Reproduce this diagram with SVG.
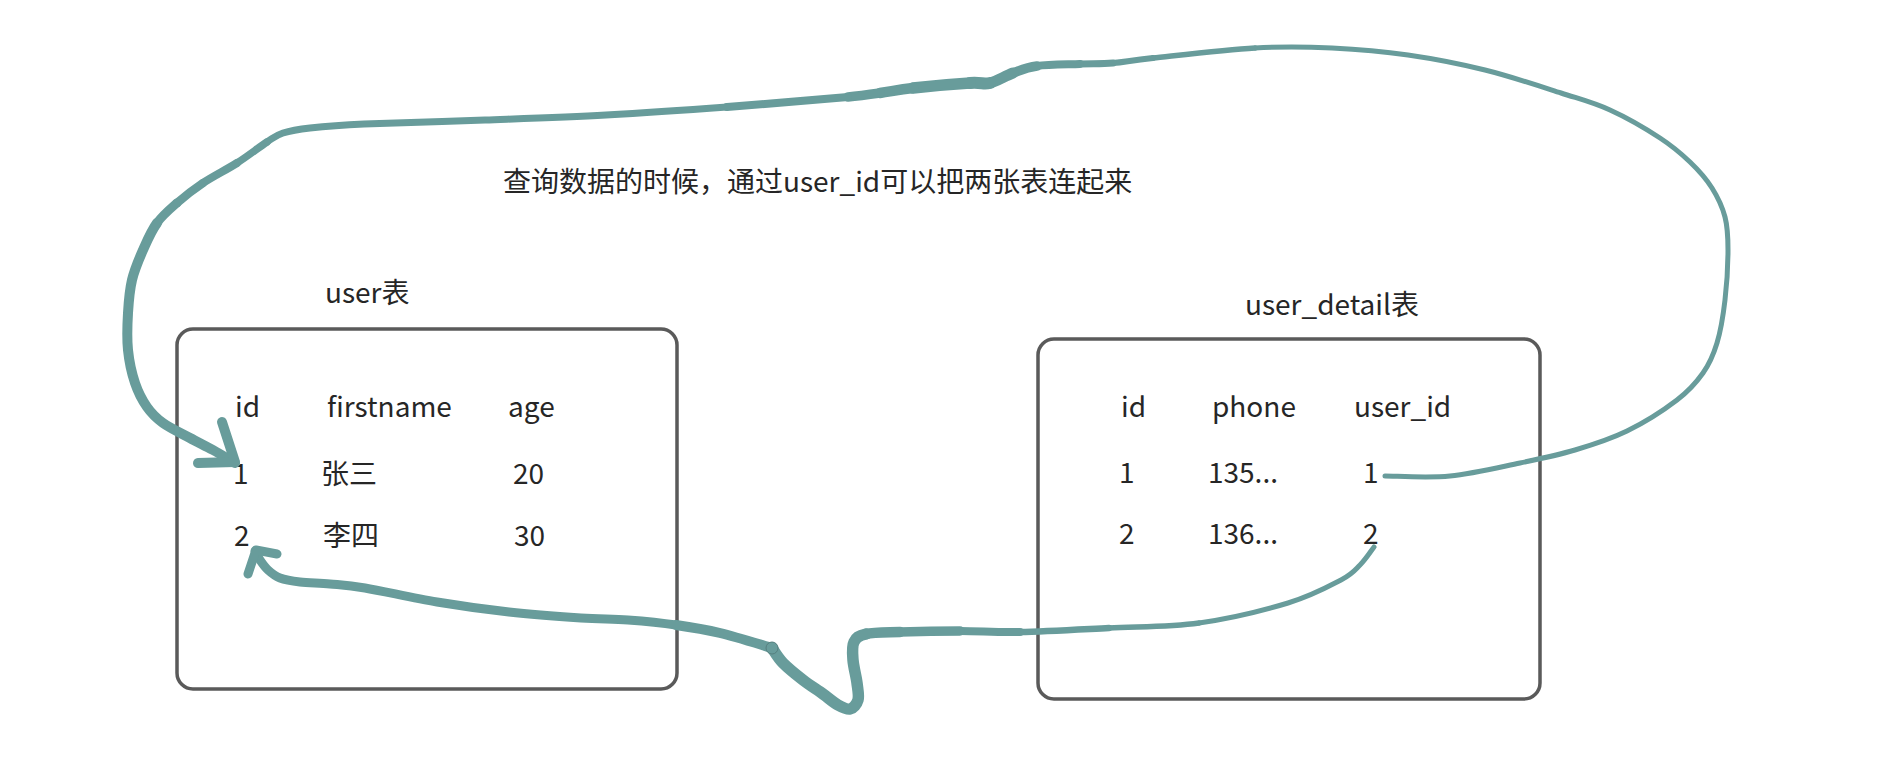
<svg xmlns="http://www.w3.org/2000/svg" width="1900" height="770" viewBox="0 0 1900 770">
<style>
text{font-family:"Noto Sans CJK SC","Noto Sans",sans-serif;font-size:28px;fill:#262626}
.box{fill:none;stroke:#5a5a5a;stroke-width:3.5}
#connectors path{fill:none;stroke:#689c9b;stroke-linecap:round;stroke-linejoin:round}
</style>
<rect width="1900" height="770" fill="#ffffff"/>
<g id="title"><text x="503" y="192">查询数据的时候，通过user_id可以把两张表连起来</text></g>
<g id="user-table">
<text x="325" y="303">user表</text>
<rect class="box" x="177" y="329" width="500" height="360" rx="16"/>
<text x="235" y="417">id</text><text x="327" y="417">firstname</text><text x="508" y="417">age</text>
<text x="233" y="484">1</text><text x="321" y="484">张三</text><text x="513" y="484">20</text>
<text x="234" y="546">2</text><text x="323" y="546">李四</text><text x="514" y="546">30</text>
</g>
<g id="user-detail-table">
<text x="1245" y="315">user_detail表</text>
<rect class="box" x="1038" y="339" width="502" height="360" rx="16"/>
<text x="1121" y="417">id</text><text x="1212" y="417">phone</text><text x="1354" y="417">user_id</text>
<text x="1119" y="483">1</text><text x="1208" y="483">135...</text><text x="1363" y="483">1</text>
<text x="1119" y="544">2</text><text x="1208" y="544">136...</text><text x="1363" y="544">2</text>
</g>
<g id="connectors">
<path stroke-width="5" d="M1385,476 C1395.8,476 1427.5,478.2 1450,476 C1472.5,473.8 1499.2,467.3 1520,463 C1540.8,458.7 1557.2,455.3 1575,450 C1592.8,444.7 1610,439.3 1627,431 C1644,422.7 1664.3,409.7 1677,400 C1689.7,390.3 1696.3,382.5 1703,373 C1709.7,363.5 1713.3,355.2 1717,343 C1720.7,330.8 1723.2,315.5 1725,300 C1726.8,284.5 1728,263.8 1728,250 C1728,236.2 1727.7,227.3 1725,217 C1722.3,206.7 1717.8,197.2 1712,188 C1706.2,178.8 1698.7,170.3 1690,162 C1681.3,153.7 1673.3,146.7 1660,138 C1646.7,129.3 1626.5,117.5 1610,110 C1593.5,102.5 1581.8,99.7 1561,93 C1540.2,86.3 1510.5,76.3 1485,70 C1459.5,63.7 1433.5,58.7 1408,55 C1382.5,51.3 1357.5,49.2 1332,48 C1306.5,46.8 1284.8,46.3 1255,48"/>
<path stroke-width="5.5" d="M1255,48 C1225.2,49.7 1176.7,55.5 1153,58"/>
<path stroke-width="6" d="M1153,58 C1129.3,60.5 1125.2,62 1113,63"/>
<path stroke-width="7" d="M1113,63 C1100.8,64 1092.7,63.5 1080,64"/>
<path stroke-width="8" d="M1080,64 C1067.3,64.5 1048.2,64.5 1037,66"/>
<path stroke-width="9.5" d="M1037,66 C1025.8,67.5 1020.8,70.2 1013,73"/>
<path stroke-width="11" d="M1013,73 C1005.2,75.8 997.2,81.3 990,83"/>
<path stroke-width="12" d="M990,83 C982.8,84.7 982.8,82.2 970,83"/>
<path stroke-width="11.5" d="M970,83 C957.2,83.8 928,86.3 913,88"/>
<path stroke-width="10.5" d="M913,88 C898,89.7 890.8,91.5 880,93"/>
<path stroke-width="9.5" d="M880,93 C869.2,94.5 858,96 848,97"/>
<path stroke-width="8" d="M848,97 C822.5,99.3 767.3,104 727,107"/>
<path stroke-width="7" d="M727,107 C686.7,110 646.3,112.8 606,115 C565.7,117.2 525.3,118.5 485,120 C444.7,121.5 393.2,122.7 364,124 C334.8,125.3 323.5,126.5 310,128 C296.5,129.5 290.2,130.7 283,133 C275.8,135.3 274.7,137 267,142"/>
<path stroke-width="7.5" d="M267,142 C259.3,147 247.7,156.2 237,163"/>
<path stroke-width="8" d="M237,163 C226.3,169.8 213,176.3 203,183"/>
<path stroke-width="8.5" d="M203,183 C193,189.7 184.7,196.3 177,203"/>
<path stroke-width="9" d="M177,203 C169.3,209.7 162.7,215.2 157,223"/>
<path stroke-width="10" d="M157,223 C151.3,230.8 147.2,240.5 143,250 C138.8,259.5 134.5,269.5 132,280 C129.5,290.5 128.7,301.3 128,313 C127.3,324.7 126.8,338.3 128,350 C129.2,361.7 131.8,373.5 135,383 C138.2,392.5 142.3,400.3 147,407 C151.7,413.7 155.8,417.8 163,423 C170.2,428.2 181.7,433.5 190,438 C198.3,442.5 205.5,445.8 213,450 C220.5,454.2 231.3,460.8 235,463"/>
<path stroke-width="10" d="M222,422 L235,462 L198,463"/>
<path stroke-width="5" d="M1374,547 C1371.7,550 1365.5,559.5 1360,565 C1354.5,570.5 1353,573.7 1341,580 C1329,586.3 1311.7,595.8 1288,603 C1264.3,610.2 1228.8,618.8 1199,623"/>
<path stroke-width="5.5" d="M1199,623 C1169.2,627.2 1138.8,626.5 1109,628"/>
<path stroke-width="6.5" d="M1109,628 C1079.2,629.5 1044.8,631.5 1020,632"/>
<path stroke-width="8" d="M1020,632 C995.2,632.5 980,631 960,631"/>
<path stroke-width="9.5" d="M960,631 C940,631 915.7,631.5 900,632"/>
<path stroke-width="10.5" d="M900,632 C884.3,632.5 873.7,632.3 866,634"/>
<path stroke-width="11.5" d="M866,634 C858.3,635.7 856.2,637.7 854,642 C851.8,646.3 852.5,653.2 853,660 C853.5,666.8 856.2,676.3 857,683 C857.8,689.7 859.2,695.7 858,700 C856.8,704.3 853.3,708.2 850,709 C846.7,709.8 842.5,707.5 838,705 C833.5,702.5 828.8,698.2 823,694 C817.2,689.8 809.7,685.2 803,680 C796.3,674.8 788.2,668.3 783,663 C777.8,657.7 773.8,650.5 772,648"/>
<path stroke-width="10" d="M772,648 C763.3,645.5 736,636.8 720,633 C704,629.2 691.3,627.2 676,625"/>
<path stroke-width="9" d="M676,625 C660.7,622.8 643.8,621.2 628,620 C612.2,618.8 600.8,619.3 581,618 C561.2,616.7 533,614.7 509,612 C485,609.3 461,606 437,602 C413,598 382.8,591 365,588 C347.2,585 340.8,585 330,584 C319.2,583 308.3,583 300,582 C291.7,581 285.3,580 280,578 C274.7,576 271.3,573 268,570 C264.7,567 262.2,563.2 260,560 C257.8,556.8 255.8,552.5 255,551"/>
<path stroke-width="9" d="M248,574 L256,550 L277,554"/>
<circle cx="772" cy="648" r="6" fill="#689c9b" stroke="#56807f" stroke-width="1"/>
</g>
</svg>
